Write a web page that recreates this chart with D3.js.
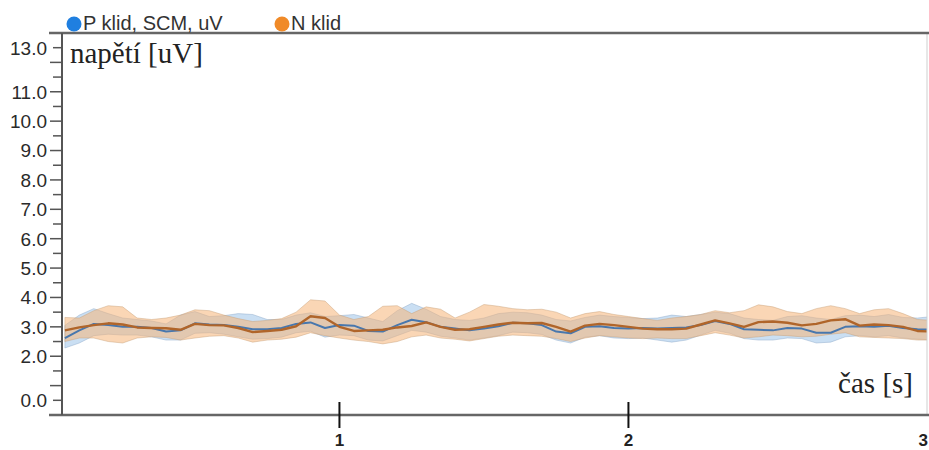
<!DOCTYPE html>
<html>
<head>
<meta charset="utf-8">
<script src="https://cdn.jsdelivr.net/npm/d3@7"></script>
<style>
  body { margin: 0; background: #fff; }
  svg { display: block; }
</style>
</head>
<body>
<svg id="chart" width="929" height="450"></svg>
<script>
// time [s]
const times = [0.05, 0.10, 0.15, 0.20, 0.25, 0.30, 0.35, 0.40, 0.45, 0.50,
  0.55, 0.60, 0.65, 0.70, 0.75, 0.80, 0.85, 0.90, 0.95, 1.00,
  1.05, 1.10, 1.15, 1.20, 1.25, 1.30, 1.35, 1.40, 1.45, 1.50,
  1.55, 1.60, 1.65, 1.70, 1.75, 1.80, 1.85, 1.90, 1.95, 2.00,
  2.05, 2.10, 2.15, 2.20, 2.25, 2.30, 2.35, 2.40, 2.45, 2.50,
  2.55, 2.60, 2.65, 2.70, 2.75, 2.80, 2.85, 2.90, 2.95, 3.00, 3.05];

// P klid, SCM, uV (blue)
const pMean = [2.62, 2.88, 3.10, 3.06, 3.00, 3.00, 2.96, 2.84, 2.88, 3.12,
  3.08, 3.06, 3.00, 2.92, 2.92, 2.96, 3.10, 3.15, 2.96, 3.06,
  3.04, 2.86, 2.84, 3.06, 3.24, 3.16, 3.00, 2.94, 2.88, 2.94,
  3.02, 3.14, 3.12, 3.06, 2.84, 2.78, 3.00, 3.02, 2.96, 2.94,
  2.96, 2.94, 2.96, 2.98, 3.06, 3.20, 3.10, 2.92, 2.90, 2.88,
  2.96, 2.94, 2.80, 2.80, 3.00, 3.02, 3.00, 3.04, 2.96, 2.92, 2.90];
const pUpper = [3.05, 3.40, 3.62, 3.45, 3.30, 3.25, 3.20, 3.10, 3.40, 3.52,
  3.35, 3.38, 3.45, 3.42, 3.25, 3.25, 3.40, 3.48, 3.35, 3.38,
  3.42, 3.30, 3.18, 3.55, 3.80, 3.60, 3.35, 3.25, 3.22, 3.30,
  3.45, 3.50, 3.48, 3.40, 3.25, 3.20, 3.32, 3.40, 3.35, 3.32,
  3.28, 3.30, 3.40, 3.35, 3.42, 3.50, 3.45, 3.30, 3.25, 3.22,
  3.35, 3.38, 3.30, 3.25, 3.38, 3.40, 3.35, 3.42, 3.32, 3.30, 3.35];
const pLower = [2.28, 2.45, 2.70, 2.75, 2.72, 2.72, 2.66, 2.55, 2.55, 2.78,
  2.80, 2.75, 2.66, 2.58, 2.60, 2.65, 2.80, 2.85, 2.65, 2.72,
  2.70, 2.55, 2.52, 2.70, 2.88, 2.82, 2.68, 2.62, 2.55, 2.62,
  2.70, 2.82, 2.80, 2.74, 2.55, 2.45, 2.65, 2.70, 2.62, 2.60,
  2.62, 2.55, 2.48, 2.55, 2.72, 2.88, 2.78, 2.60, 2.55, 2.55,
  2.62, 2.60, 2.45, 2.48, 2.66, 2.70, 2.66, 2.70, 2.62, 2.58, 2.56];

// N klid (orange)
const nMean = [2.88, 2.98, 3.06, 3.12, 3.08, 2.98, 2.96, 2.95, 2.90, 3.10,
  3.06, 3.05, 2.96, 2.82, 2.86, 2.90, 3.02, 3.36, 3.30, 3.00,
  2.86, 2.88, 2.90, 2.98, 3.03, 3.15, 3.00, 2.90, 2.92, 3.00,
  3.08, 3.14, 3.12, 3.13, 3.00, 2.84, 3.04, 3.10, 3.06, 3.00,
  2.94, 2.92, 2.92, 2.94, 3.08, 3.22, 3.12, 3.00, 3.16, 3.18,
  3.14, 3.05, 3.10, 3.22, 3.26, 3.04, 3.08, 3.06, 3.00, 2.86, 2.84];
const nUpper = [3.32, 3.30, 3.55, 3.72, 3.68, 3.30, 3.25, 3.30, 3.40, 3.58,
  3.55, 3.40, 3.28, 3.18, 3.22, 3.28, 3.50, 3.92, 3.88, 3.40,
  3.25, 3.35, 3.70, 3.72, 3.45, 3.68, 3.60, 3.30, 3.50, 3.76,
  3.70, 3.62, 3.58, 3.60, 3.50, 3.30, 3.45, 3.52, 3.42, 3.35,
  3.28, 3.22, 3.30, 3.35, 3.42, 3.55, 3.48, 3.55, 3.75, 3.68,
  3.52, 3.45, 3.62, 3.72, 3.62, 3.45, 3.58, 3.62, 3.45, 3.25, 3.22];
const nLower = [2.50, 2.62, 2.62, 2.50, 2.45, 2.62, 2.66, 2.64, 2.55, 2.62,
  2.68, 2.70, 2.62, 2.48, 2.55, 2.58, 2.65, 2.80, 2.70, 2.62,
  2.55, 2.50, 2.42, 2.50, 2.66, 2.72, 2.62, 2.58, 2.52, 2.60,
  2.68, 2.72, 2.70, 2.68, 2.60, 2.50, 2.62, 2.70, 2.66, 2.62,
  2.60, 2.62, 2.60, 2.60, 2.70, 2.80, 2.72, 2.62, 2.66, 2.72,
  2.70, 2.66, 2.68, 2.75, 2.80, 2.66, 2.64, 2.62, 2.60, 2.55, 2.55];

// Tick values
const yLabelTicks = [0, 2, 3, 4, 5, 6, 7, 8, 9, 10, 11, 13];
const yHalfTicks = [0.5, 1, 1.5, 2, 2.5, 3, 3.5, 4, 4.5, 5, 5.5, 6, 6.5, 7, 7.5,
  8, 8.5, 9, 9.5, 10, 10.5, 11, 11.5, 12, 12.5];
const xTicks = [1, 2, 3];

const svg = d3.select("#chart");
const W = 929;

// Layout
const margin = { left: 62, right: 927, top: 33, bottom: 415 };

const xScale = d3.scaleLinear().domain([0.04, 3.04]).range([margin.left, margin.left + 867]);
const yScale = d3.scaleLinear().domain([0, 13]).range([margin.bottom, margin.top]);

svg.append("defs").append("clipPath").attr("id", "plotClip")
  .append("rect")
  .attr("x", margin.left).attr("y", margin.top)
  .attr("width", margin.right - margin.left).attr("height", margin.bottom - margin.top);

const series = [
  { mean: pMean, upper: pUpper, lower: pLower,
    band: "rgba(150,192,232,0.5)", bandStroke: "rgba(130,160,195,0.4)", line: "#4877ad", w: 2 },
  { mean: nMean, upper: nUpper, lower: nLower,
    band: "rgba(246,180,120,0.55)", bandStroke: "rgba(200,160,120,0.45)", line: "#b0652a", w: 2.4 }
];

const plot = svg.append("g").attr("clip-path", "url(#plotClip)");

const area = (s) => d3.area()
  .x((d, i) => xScale(times[i]))
  .y0((d, i) => yScale(s.lower[i]))
  .y1((d, i) => yScale(s.upper[i]));

const line = (s) => d3.line()
  .x((d, i) => xScale(times[i]))
  .y((d, i) => yScale(s.mean[i]));

series.forEach(s => {
  plot.append("path")
    .datum(times)
    .attr("d", area(s))
    .attr("fill", s.band)
    .attr("stroke", s.bandStroke)
    .attr("stroke-width", 1);
});
series.forEach(s => {
  plot.append("path")
    .datum(times)
    .attr("d", line(s))
    .attr("fill", "none")
    .attr("stroke", s.line)
    .attr("stroke-width", s.w)
    .attr("stroke-linejoin", "round");
});

// Frame
svg.append("line")
  .attr("x1", margin.right).attr("x2", margin.right)
  .attr("y1", margin.top).attr("y2", margin.bottom)
  .attr("stroke", "#cfcfcf").attr("stroke-width", 1);
svg.append("line")
  .attr("x1", 49).attr("x2", W).attr("y1", margin.top).attr("y2", margin.top)
  .attr("stroke", "#666").attr("stroke-width", 2.5);
svg.append("line")
  .attr("x1", 49).attr("x2", W).attr("y1", margin.bottom).attr("y2", margin.bottom)
  .attr("stroke", "#666").attr("stroke-width", 2.5);
svg.append("line")
  .attr("x1", margin.left).attr("x2", margin.left)
  .attr("y1", margin.top).attr("y2", margin.bottom)
  .attr("stroke", "#555").attr("stroke-width", 2);

// Y ticks
svg.append("g").selectAll("line")
  .data(yHalfTicks)
  .enter().append("line")
    .attr("x1", d => Number.isInteger(d) ? 50 : 53)
    .attr("x2", margin.left)
    .attr("y1", d => yScale(d))
    .attr("y2", d => yScale(d))
    .attr("stroke", "#555")
    .attr("stroke-width", 1.5);

svg.append("g").selectAll("text")
  .data(yLabelTicks)
  .enter().append("text")
    .attr("x", 47)
    .attr("y", d => yScale(Math.min(Math.max(d, 0.5), 12.5)))
    .attr("dy", "0.36em")
    .attr("text-anchor", "end")
    .attr("font-family", "'Liberation Sans', Arial, sans-serif")
    .attr("font-size", 19)
    .attr("fill", "#2a2a2a")
    .text(d => d.toFixed(1));

// X ticks; the last one falls on the right edge of the picture
const lastTick = xTicks[xTicks.length - 1];
const inside = xTicks.filter(d => d !== lastTick);
svg.append("g").selectAll("line")
  .data(inside)
  .enter().append("line")
    .attr("x1", d => xScale(d)).attr("x2", d => xScale(d))
    .attr("y1", 402).attr("y2", 428)
    .attr("stroke", "#111").attr("stroke-width", 2);

svg.append("g").selectAll("text")
  .data(xTicks)
  .enter().append("text")
    .attr("x", d => d === lastTick ? W - 1 : xScale(d))
    .attr("y", 446)
    .attr("text-anchor", d => d === lastTick ? "end" : "middle")
    .attr("font-family", "'Liberation Sans', Arial, sans-serif")
    .attr("font-size", 17)
    .attr("font-weight", "bold")
    .attr("fill", "#222")
    .text(d => d);

// Axis titles
svg.append("text")
  .attr("x", 70).attr("y", 63)
  .attr("font-family", "'Liberation Serif', 'Times New Roman', serif")
  .attr("font-size", 29)
  .attr("fill", "#222")
  .text("napětí [uV]");

svg.append("text")
  .attr("x", 913).attr("y", 393)
  .attr("text-anchor", "end")
  .attr("font-family", "'Liberation Serif', 'Times New Roman', serif")
  .attr("font-size", 29)
  .attr("fill", "#222")
  .text("čas [s]");

// Legend
const legendItems = [
  { name: "P klid, SCM, uV", color: "#1f7fe0", x: 74 },
  { name: "N klid", color: "#f08a28", x: 282 }
];
const legend = svg.append("g").selectAll("g")
  .data(legendItems)
  .enter().append("g");
legend.append("circle")
  .attr("cx", d => d.x).attr("cy", 24).attr("r", 7.5)
  .attr("fill", d => d.color);
legend.append("text")
  .attr("x", d => d.x + 9).attr("y", 30)
  .attr("font-family", "'Liberation Sans', Arial, sans-serif")
  .attr("font-size", 20)
  .attr("fill", "#333")
  .text(d => d.name);
</script>
</body>
</html>
